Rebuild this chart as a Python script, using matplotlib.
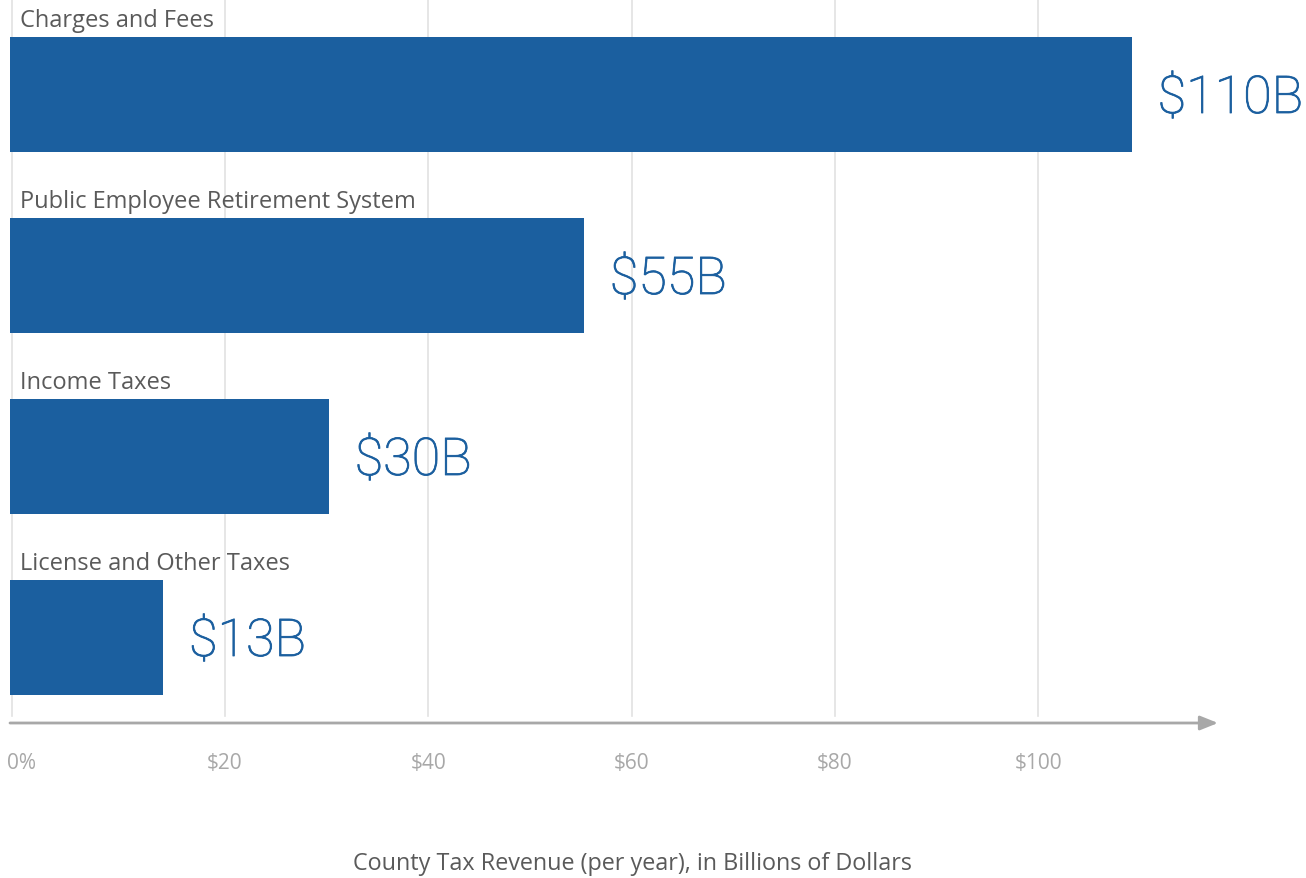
import matplotlib
matplotlib.use('Agg')
import matplotlib.pyplot as plt
import matplotlib.patheffects as pe

# data (billions of dollars)
categories = ['Charges and Fees', 'Public Employee Retirement System',
              'Income Taxes', 'License and Other Taxes']
values = [109.2, 55.3, 30.2, 13.9]
value_labels = ['$110B', '$55B', '$30B', '$13B']
tick_values = [0, 20, 40, 60, 80, 100]
tick_labels = ['0%', '$20', '$40', '$60', '$80', '$100']

bar_color = '#1b5f9f'
text_gray = '#5a5a5a'
light_gray = '#a8a8a8'
grid_gray = '#e2e2e2'

plt.rcParams['font.family'] = ['Open Sans', 'DejaVu Sans']

W, H = 1306, 879
fig = plt.figure(figsize=(W / 100, H / 100), dpi=100)

# axes placed in pixel terms: left edge 10px, right 1218px, top 0px, bottom 724px
ax = fig.add_axes([10 / W, 1 - 724 / H, 1208 / W, 724 / H])

xmin, xmax = -1.156, 117.7
ax.set_xlim(xmin, xmax)
ax.set_ylim(3.4724, -0.5276)
bar_h = 0.635

for x in tick_values[1:]:
    ax.axvline(x, ymin=0.009, ymax=1, color=grid_gray, lw=1.2, zorder=0)
ax.axvline(xmin + 0.15, ymin=0.009, ymax=1, color=grid_gray, lw=1.2, zorder=0)

ypos = list(range(len(categories)))
ax.barh(ypos, [v - xmin for v in values], left=xmin, height=bar_h,
        color=bar_color, zorder=2)

for i in ypos:
    ax.annotate(categories[i], xy=(xmin, i - bar_h / 2), xytext=(10, 11),
                textcoords='offset pixels', ha='left', va='baseline',
                fontsize=17, color=text_gray)
    t = ax.annotate(value_labels[i], xy=(values[i], i), xytext=(26, -18.5),
                    textcoords='offset pixels', ha='left', va='baseline',
                    fontsize=37.5, color=bar_color, fontweight='light',
                    family=['Roboto', 'DejaVu Sans'])
    t.set_path_effects([pe.withStroke(linewidth=0.6, foreground=bar_color)])

# axis line with arrow head
ax.annotate('', xy=(1, 0), xytext=(0, 0), xycoords='axes fraction',
            arrowprops=dict(arrowstyle='-|>,head_length=0.75,head_width=0.3',
                            mutation_scale=14.4, color=light_gray, lw=2,
                            shrinkA=0, shrinkB=0), annotation_clip=False)

for s in ax.spines.values():
    s.set_visible(False)
ax.set_yticks([])
ax.set_xticks(tick_values)
ax.set_xticklabels(tick_labels, fontsize=15, color=light_gray)
ax.tick_params(axis='x', length=0, pad=21)

fig.text(632 / W, 1 - 870 / H, 'County Tax Revenue (per year), in Billions of Dollars',
         ha='center', va='baseline', fontsize=16.8, color=text_gray)

fig.savefig('out.png', dpi=100, facecolor='white')
